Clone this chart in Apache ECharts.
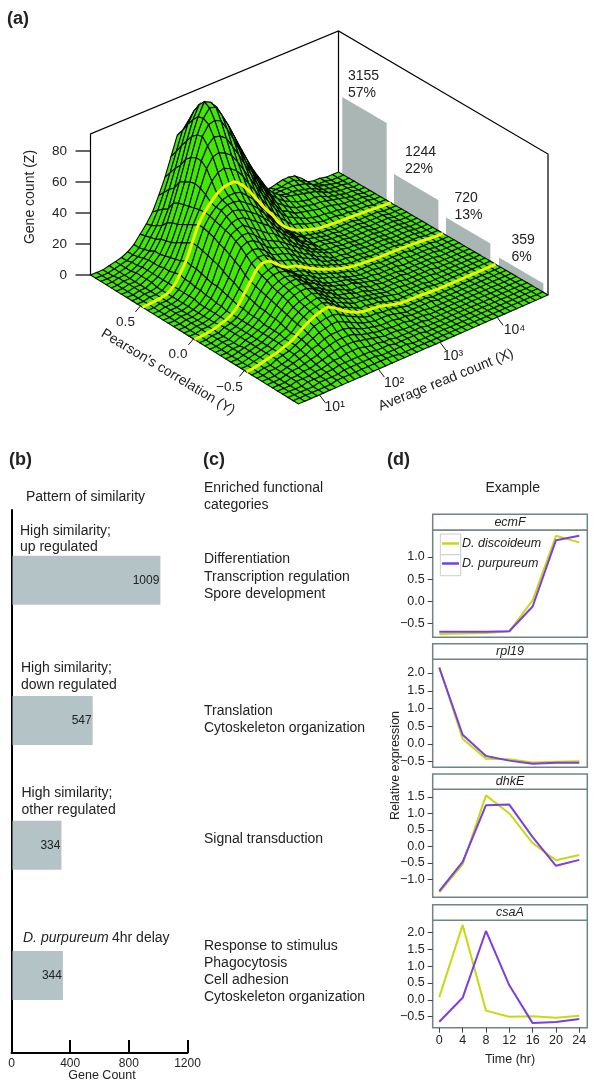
<!DOCTYPE html>
<html><head><meta charset="utf-8">
<style>html,body{margin:0;padding:0;background:#fff}#c{width:600px;height:1090px}</style>
<script src="https://cdn.jsdelivr.net/npm/echarts@6/dist/echarts.min.js"></script>
</head><body><div id="c"></div>
<script>
// ---------- data ----------
const surfaceZ = [
[0,0,0,1,2,3,5,8,13,18,24,33,43,55,67,68,62,50,36,26,18,13,10,8,7,6,6,6,7,8,9,10,10,9,6,2,1,1,0,0,0],
[0,0,0,1,2,3,5,8,14,19,27,37,48,60,72,77,73,62,49,39,30,24,20,16,13,11,9,8,8,9,9,10,10,8,6,2,1,1,0,0,0],
[0,0,0,1,2,4,6,9,15,21,30,41,53,66,78,85,84,74,62,52,42,35,29,24,20,16,13,11,10,10,10,10,9,8,6,3,2,1,0,0,0],
[0,0,1,1,2,4,7,10,16,23,32,44,57,71,83,91,90,81,71,62,52,44,37,30,25,20,16,13,11,10,10,9,8,7,5,3,2,1,1,0,0],
[0,0,1,1,3,5,8,12,18,27,38,50,63,76,87,95,93,88,80,72,63,54,45,37,30,23,18,15,12,11,10,9,8,7,5,3,2,1,1,0,0],
[0,0,1,1,3,5,8,12,19,29,40,52,66,79,88,93,92,85,77,68,58,50,41,33,26,20,16,13,11,9,8,7,7,6,4,3,2,1,1,0,0],
[0,0,1,1,3,5,8,13,20,30,41,54,68,80,86,87,85,78,70,61,52,44,36,29,23,17,14,11,9,8,7,6,6,5,4,3,2,1,1,0,0],
[0,0,1,1,3,5,9,14,22,32,42,55,68,76,80,79,76,69,62,54,46,38,31,25,19,14,12,9,8,7,6,5,5,4,3,2,2,1,1,0,0],
[0,0,1,1,2,5,9,15,24,34,43,54,65,71,72,70,67,61,54,47,40,33,27,21,16,12,10,8,6,5,4,4,3,3,2,2,1,1,1,0,0],
[0,0,1,1,2,5,10,16,26,36,44,52,59,63,64,62,59,54,47,41,34,28,22,17,13,9,8,6,5,4,3,3,3,2,2,1,1,1,0,0,0],
[0,0.2,0.6,1.1,2,5,11,18,28,38,44.5,49,53,55.3,56,55.6,52,47,41,35,29,24,17.5,13,10,7.5,6,4.6,3.4,2.9,2.5,2.2,2,1.8,1.6,1.4,1.1,0.8,0.5,0.2,0],
[0,0,1,1,2,5,10,17,28,38,44,48,51,52,52,51,47,43,37,32,26,22,16,12,9,6,5,4,3,3,2,2,2,2,1,1,1,1,0,0,0],
[0,0,1,1,2,5,10,17,27,37,43,48,50,50,49,46,43,39,34,29,24,20,15,11,9,6,5,4,3,3,2,2,2,2,1,1,1,1,0,0,0],
[0,0,1,1,2,5,9,16,26,36,42,46,48,47,45,42,39,35,31,26,22,18,14,10,8,5,5,4,3,3,2,2,2,2,1,1,1,1,0,0,0],
[0,0,1,1,2,5,9,15,25,34,41,44,45,44,41,38,35,32,28,24,20,17,13,10,8,5,5,4,3,3,2,2,2,2,1,1,1,1,0,0,0],
[0,0,1,1,2,4,8,14,24,33,40,42,43,40,37,34,31,29,25,22,18,15,12,9,7,5,4,4,3,3,2,2,2,2,1,1,1,1,0,0,0],
[0,0,1,1,2,4,8,14,22,31,38,40,40,37,33,30,28,26,23,20,17,14,11,9,7,5,4,4,3,3,2,2,2,2,1,1,1,1,0,0,0],
[0,0,1,1,2,4,7,13,20,29,36,38,37,34,30,27,26,24,21,18,15,13,10,8,6,4,4,3,3,3,2,2,2,2,1,1,1,1,0,0,0],
[0,0,1,1,2,4,7,12,19,27,33,35,34,31,27,25,24,22,19,16,14,12,9,7,6,4,4,3,3,2,2,2,2,2,1,1,1,1,0,0,0],
[0,0,1,1,2,4,6,11,17,24,30,32,32,29,25,23,22,20,17,14,12,10,8,7,5,4,3,3,3,2,2,2,2,2,1,1,1,1,0,0,0],
[0,0.2,0.6,1.4,2.6,3.8,6,10,16,22,28,30.5,30,27,23.5,21,20,18,15.5,13.3,11.2,9.5,7.8,6.3,5,4,3.4,3,2.7,2.5,2.3,2.2,2.1,2,1.8,1.5,1.2,0.9,0.5,0.2,0],
[0,0,1,1,3,4,6,10,15,21,26,28,29,26,23,20,19,17,14,12,10,9,7,6,5,3,3,3,3,2,2,2,2,2,1,1,1,1,0,0,0],
[0,0,1,1,3,4,6,9,14,20,25,27,27,26,23,20,18,16,13,11,10,8,7,5,4,3,3,3,2,2,2,2,2,1,1,1,1,0,0,0,0],
[0,0,1,1,3,4,6,9,13,19,23,25,26,25,23,20,17,15,12,10,9,8,7,5,4,3,3,2,2,2,2,1,1,1,1,1,1,0,0,0,0],
[0,0,1,1,3,4,6,9,13,18,22,24,25,25,22,19,17,14,12,10,9,7,7,5,4,3,2,2,2,2,1,1,1,1,1,1,0,0,0,0,0],
[0,0,1,1,3,4,6,8,12,17,21,23,24,24,22,18,16,13,11,10,8,6,6,5,3,3,2,2,2,2,1,1,1,1,1,0,0,0,0,0,0],
[0,0,1,2,3,4,6,8,12,16,20,22,23,23,21,18,15,13,10,9,8,6,6,4,3,2,2,2,2,1,1,1,1,1,0,0,0,0,0,0,0],
[0,0,1,2,3,4,6,8,11,15,18,20,21,22,20,17,14,12,10,8,7,6,5,4,3,2,2,2,1,1,1,1,1,0,0,0,0,0,0,0,0],
[0,0,1,2,3,4,6,8,10,14,17,19,20,21,19,16,13,11,9,7,7,6,5,4,3,2,1,1,1,1,1,0,0,0,0,0,0,0,0,0,0],
[0,0,1,2,3,4,6,7,9,13,16,18,19,20,18,15,12,10,8,6,6,5,5,3,2,1,1,1,1,1,1,0,0,0,0,0,0,0,0,0,0],
[0,0.3,1,2,3,4,5.5,7,9.5,12.5,15,17,18.2,19,17,14,11.3,9,7.2,6.2,5.8,5.3,4.6,3.2,2,1.3,1.1,1,0.8,0.5,0.3,0.1,0,0,0,0,0,0,0,0,0],
[0,0,1,1,3,4,5,7,9,11,14,15,16,16,15,12,10,8,6,5,5,4,4,3,2,1,1,1,1,0,0,0,0,0,0,0,0,0,0,0,0],
[0,0,1,1,2,3,5,6,8,10,12,13,14,14,12,10,8,6,5,4,4,4,3,2,1,1,1,1,1,0,0,0,0,0,0,0,0,0,0,0,0],
[0,0,0,1,2,3,4,5,7,8,10,11,11,11,10,8,6,5,4,3,3,3,2,2,1,1,1,0,0,0,0,0,0,0,0,0,0,0,0,0,0],
[0,0,0,1,2,2,3,4,5,7,8,9,9,9,8,6,5,4,3,3,2,2,2,1,1,1,0,0,0,0,0,0,0,0,0,0,0,0,0,0,0],
[0,0,0,1,1,2,2,3,4,5,6,7,7,7,6,5,4,3,2,2,2,1,1,1,1,0,0,0,0,0,0,0,0,0,0,0,0,0,0,0,0],
[0,0,0,1,1,1,2,2,3,4,4,5,5,5,4,3,3,2,2,1,1,1,1,1,0,0,0,0,0,0,0,0,0,0,0,0,0,0,0,0,0],
[0,0,0,0,1,1,1,2,2,3,3,3,3,3,3,2,2,2,1,1,1,1,1,0,0,0,0,0,0,0,0,0,0,0,0,0,0,0,0,0,0],
[0,0,0,0,0,1,1,1,1,2,2,2,2,2,2,1,1,1,1,1,0,0,0,0,0,0,0,0,0,0,0,0,0,0,0,0,0,0,0,0,0],
[0,0,0,0,0,0,0,1,1,1,1,1,1,1,1,1,1,0,0,0,0,0,0,0,0,0,0,0,0,0,0,0,0,0,0,0,0,0,0,0,0],
[0,0,0,0,0,0,0,0,0,0,0,0,0,0,0,0,0,0,0,0,0,0,0,0,0,0,0,0,0,0,0,0,0,0,0,0,0,0,0,0,0]
];
const yellowRows = [10,20,30];
const wallCounts = [3155,1244,720,359];
const wallPercents = ['57%','22%','13%','6%'];
const zTicks = [0,20,40,60,80];
const yTickLabels = ['0.5','0.0','\u22120.5'];
const xTickLabels = ['10\u00B9','10\u00B2','10\u00B3','10\u2074'];

const barCounts = [1009,547,334,344];
const times = [0,4,8,12,16,20,24];
const genes = ['ecmF','rpl19','dhkE','csaA'];
const discoideum = [
 [-0.74,-0.73,-0.72,-0.68,0.02,1.48,1.33],
 [2.17,0.15,-0.42,-0.43,-0.52,-0.5,-0.49],
 [-1.4,-0.55,1.55,1.0,0.1,-0.42,-0.26],
 [0.08,2.22,-0.32,-0.5,-0.49,-0.53,-0.47]
];
const purpureum = [
 [-0.69,-0.69,-0.69,-0.68,-0.12,1.38,1.48],
 [2.15,0.26,-0.34,-0.47,-0.56,-0.53,-0.53],
 [-1.36,-0.47,1.25,1.27,0.28,-0.59,-0.41],
 [-0.65,0.06,2.04,0.43,-0.69,-0.66,-0.57]
];
const panelTicks = [
 [-0.5,0,0.5,1],
 [-0.5,0,0.5,1,1.5,2],
 [-1,-0.5,0,0.5,1,1.5],
 [-0.5,0,0.5,1,1.5,2]
];

// ---------- layout / projection ----------
const A=[90.5,275], F=[298.5,404], R=[548,295], B=[338.5,172];
const Z_PX=1.55, WALL_PX=0.0245, WALL_H=141;
function floor(s,t){
  const xa=A[0]+(B[0]-A[0])*s, ya=A[1]+(B[1]-A[1])*s;
  const xb=F[0]+(R[0]-F[0])*s, yb=F[1]+(R[1]-F[1])*s;
  return [xa+(xb-xa)*t, ya+(yb-ya)*t];
}
function proj(s,t,z){const p=floor(s,t);return [p[0],p[1]-z*Z_PX];}
const N=40;
const cells=[];
for(let i=0;i<N;i++)for(let j=N-1;j>=0;j--){
  cells.push([i,j,surfaceZ[i][j],surfaceZ[i][j+1],surfaceZ[i+1][j+1],surfaceZ[i+1][j]]);
}
const wallSlots=[0.018,0.265,0.513,0.766], wallW=0.212;
const TEXT='#222', FF='"Liberation Sans",Arial,sans-serif';
function T(text,x,y,o){o=o||{};return {type:'text',x:x,y:y,rotation:o.rot||0,z:50,
  style:{text:text,fill:o.fill||TEXT,font:(o.italic?'italic ':'')+(o.bold?'bold ':'')+(o.size||14)+'px '+FF,
  align:o.align||'left',verticalAlign:'middle'}};}
const FR='#6f8484';

const grids=[{left:0,top:0,width:600,height:1090}];
const xAxes=[{gridIndex:0,type:'value',min:0,max:600,show:false}];
const yAxes=[{gridIndex:0,type:'value',min:0,max:1090,inverse:true,show:false}];
const series=[];

// walls + wall bars
series.push({type:'custom',coordinateSystem:'cartesian2d',xAxisIndex:0,yAxisIndex:0,silent:true,clip:false,
  data:wallCounts.map((c,i)=>[i,c]),progressive:0,animation:false,
  renderItem:(p,api)=>{
    const k=api.value(0),c=api.value(1),t0=wallSlots[k],t1=t0+wallW;
    const a=floor(1,t0),b=floor(1,t1),h=c*WALL_PX;
    const pts=[[a[0],a[1]],[a[0],a[1]-h],[b[0],b[1]-h],[b[0],b[1]]].map(q=>api.coord(q));
    return {type:'polygon',shape:{points:pts},style:{fill:'#a9b6b4'}};
  }});
series.push({type:'custom',coordinateSystem:'cartesian2d',xAxisIndex:0,yAxisIndex:0,silent:true,clip:false,
  data:[[0]],progressive:0,animation:false,
  renderItem:(p,api)=>{
    const top=q=>[q[0],q[1]-WALL_H];
    const pts=[A,top(A),top(B),top(R),R].map(q=>api.coord(q));
    return {type:'group',children:[
      {type:'polyline',shape:{points:pts},style:{fill:null,stroke:'#000',lineWidth:1.2}},
      {type:'line',shape:{x1:B[0],y1:B[1],x2:B[0],y2:B[1]-WALL_H},style:{stroke:'#000',lineWidth:1.2}}
    ]};
  }});
// surface
series.push({type:'custom',coordinateSystem:'cartesian2d',xAxisIndex:0,yAxisIndex:0,silent:true,clip:false,
  data:cells,progressive:0,animation:false,
  renderItem:(p,api)=>{
    const i=api.value(0),j=api.value(1);
    const q=[proj(j/N,i/N,api.value(2)),proj((j+1)/N,i/N,api.value(3)),
             proj((j+1)/N,(i+1)/N,api.value(4)),proj(j/N,(i+1)/N,api.value(5))].map(v=>api.coord(v));
    return {type:'polygon',shape:{points:q},style:{fill:'#3fea00',stroke:'#050505',lineWidth:1.1}};
  }});
// yellow lines
series.push({type:'custom',coordinateSystem:'cartesian2d',xAxisIndex:0,yAxisIndex:0,silent:true,clip:false,
  data:yellowRows.map(r=>[r]),progressive:0,animation:false,
  renderItem:(p,api)=>{
    const r=api.value(0);
    const pts=surfaceZ[r].map((z,j)=>api.coord(proj(j/N,r/N,z)));
    return {type:'polyline',shape:{points:pts,smooth:0.35},style:{fill:null,stroke:'#f4ee10',lineWidth:3}};
  }});

// panel (b) bars
const barTops=[555.7,696,820.7,951], BAR_H=49;
barCounts.forEach((v,k)=>{
  const g=grids.length;
  grids.push({left:12.5,width:175,top:barTops[k],height:BAR_H});
  xAxes.push({gridIndex:g,type:'value',min:0,max:1194,show:false});
  yAxes.push({gridIndex:g,type:'category',data:['b'+k],show:false});
  series.push({type:'bar',xAxisIndex:g,yAxisIndex:g,data:[v],barWidth:'100%',animation:false,silent:true,
    itemStyle:{color:'#b3c3c6'},
    label:{show:true,position:'insideRight',distance:1,color:'#222',fontSize:12,fontFamily:FF}});
});
// panel (b) axis frame
{
  const g=grids.length;
  grids.push({left:11.5,width:176,top:510,height:543});
  xAxes.push({gridIndex:g,type:'value',min:0,max:1200,interval:400,
    axisLine:{show:true,lineStyle:{color:'#000',width:2}},
    axisTick:{show:true,inside:true,length:13,lineStyle:{color:'#000',width:2}},
    axisLabel:{color:'#222',fontSize:12,fontFamily:FF,margin:5,showMinLabel:true,showMaxLabel:true,hideOverlap:false,formatter:v=>String(v)},
    splitLine:{show:false}});
  yAxes.push({gridIndex:g,type:'value',min:0,max:1,
    axisLine:{show:true,onZero:false,lineStyle:{color:'#000',width:2}},axisTick:{show:false},axisLabel:{show:false},splitLine:{show:false}});
  series.push({type:'line',xAxisIndex:g,yAxisIndex:g,data:[],silent:true});
}
// panel (d) lines
const plotTop=[530,659.3,789.3,920.3], plotBottom=[637.3,767.3,897.3,1027.7];
const yRange=[[-0.817,1.61],[-0.658,2.387],[-1.547,1.734],[-0.826,2.356]];
const stripTop=[514.3,643.7,774,904.7];
const fmt=v=>(v<0?'\u2212':'')+Math.abs(v).toFixed(1);
genes.forEach((name,k)=>{
  const g=grids.length;
  grids.push({left:432.7,right:12.7,top:plotTop[k],height:plotBottom[k]-plotTop[k],show:true,borderColor:FR,borderWidth:1.5,backgroundColor:'transparent'});
  const last=k===3;
  xAxes.push({gridIndex:g,type:'value',min:-1.13,max:25.37,
    axisLine:{show:false,onZero:false},splitLine:{show:false},
    axisTick:{show:last,length:5,customValues:times,lineStyle:{color:'#444',width:1}},
    axisLabel:{show:last,color:'#222',fontSize:12.5,fontFamily:FF,margin:6,customValues:times}});
  yAxes.push({gridIndex:g,type:'value',min:yRange[k][0],max:yRange[k][1],
    axisLine:{show:false,onZero:false},splitLine:{show:false},
    axisTick:{show:true,length:5,customValues:panelTicks[k],lineStyle:{color:'#444',width:1}},
    axisLabel:{show:true,color:'#222',fontSize:12.5,fontFamily:FF,margin:8,customValues:panelTicks[k],formatter:fmt}});
  const mk=(n,c,d)=>({type:'line',name:n,xAxisIndex:g,yAxisIndex:g,data:times.map((t,i)=>[t,d[i]]),
    showSymbol:false,symbol:'none',lineStyle:{color:c,width:2},itemStyle:{color:c},animation:false,silent:true,clip:true});
  series.push(mk('D. discoideum','#c6da12',discoideum[k]));
  series.push(mk('D. purpureum','#7a3ee2',purpureum[k]));
});

// ---------- text and decoration ----------
const gfx=[];
gfx.push(T('(a)',7,19,{bold:true,size:18}));
gfx.push(T('(b)',9,460,{bold:true,size:18}));
gfx.push(T('(c)',203,460,{bold:true,size:18}));
gfx.push(T('(d)',387,460,{bold:true,size:18}));
// panel a texts
gfx.push(T('Gene count (Z)',30,197,{rot:Math.PI/2,align:'center',size:14}));
gfx.push(T("Pearson's correlation (Y)",168,372,{rot:-31*Math.PI/180,align:'center',size:14}));
gfx.push(T('Average read count (X)',446,380,{rot:22*Math.PI/180,align:'center',size:14}));
zTicks.forEach(z=>{
  const y=A[1]-z*Z_PX;
  gfx.push({type:'line',shape:{x1:A[0]-15,y1:y,x2:A[0],y2:y},style:{stroke:'#000',lineWidth:1.2},z:50});
  gfx.push(T(String(z),67,y,{align:'right',size:13.5}));
});
[0.24,0.495,0.74].forEach((t,i)=>{
  const p=floor(0,t);
  gfx.push({type:'line',shape:{x1:p[0],y1:p[1],x2:p[0]-5,y2:p[1]+6},style:{stroke:'#111',lineWidth:1},z:50});
  gfx.push(T(yTickLabels[i],[125.5,178,229.5][i],[322,354,387][i],{align:'center',size:13.5}));
});
[0.084,0.32,0.567,0.796].forEach((s,i)=>{
  const p=floor(s,1);
  gfx.push({type:'line',shape:{x1:p[0],y1:p[1],x2:p[0]+6,y2:p[1]+8},style:{stroke:'#111',lineWidth:1},z:50});
  gfx.push(T(xTickLabels[i],[334.7,394,453,514.5][i],[407,383,356,330][i],{align:'center',size:14}));
});
const wallLab=[[348,76,93],[405,152.3,169],[454.5,197.7,215],[511.5,240,257]];
wallCounts.forEach((c,i)=>{
  gfx.push(T(String(c),wallLab[i][0],wallLab[i][1]));
  gfx.push(T(wallPercents[i],wallLab[i][0],wallLab[i][2]));
});
// panel b texts
gfx.push(T('Pattern of similarity',26,496.7));
[['High similarity;',20,530.7],['up regulated',20,547],['High similarity;',21,668],['down regulated',21,685],
 ['High similarity;',21.5,793],['other regulated',21.5,810],['4hr delay',112,938]].forEach(a=>gfx.push(T(a[0],a[1],a[2])));
gfx.push(T('D. purpureum',23,938,{italic:true}));
gfx.push(T('Gene Count',102,1076,{align:'center',size:12.5}));
// panel c texts
[['Enriched functional',488],['categories',505],['Differentiation',559],['Transcription regulation',576.7],['Spore development',594],
 ['Translation',710.7],['Cytoskeleton organization',728],['Signal transduction',839],
 ['Response to stimulus',945.7],['Phagocytosis',962.7],['Cell adhesion',980],['Cytoskeleton organization',996.7]
].forEach(a=>gfx.push(T(a[0],204,a[1])));
// panel d decoration
gfx.push(T('Example',512.7,488,{align:'center'}));
gfx.push(T('Relative expression',396,765.5,{rot:Math.PI/2,align:'center',size:12.5}));
gfx.push(T('Time (hr)',510,1060,{align:'center',size:12.5}));
genes.forEach((name,k)=>{
  gfx.push({type:'rect',shape:{x:432.7,y:stripTop[k],width:154.6,height:plotTop[k]-stripTop[k]},style:{fill:'#fff',stroke:FR,lineWidth:1.5},z:40});
  gfx.push(T(name,510,(stripTop[k]+plotTop[k])/2,{italic:true,align:'center',size:12.5}));
});
gfx.push({type:'rect',shape:{x:440.3,y:534,width:20.4,height:20.7},style:{fill:'#fff',stroke:'#c5d0d0',lineWidth:1},z:2});
gfx.push({type:'rect',shape:{x:440.3,y:554.7,width:20.4,height:21},style:{fill:'#fff',stroke:'#c5d0d0',lineWidth:1},z:2});

const chart=echarts.init(document.getElementById('c'),null,{renderer:'canvas',width:600,height:1090});
chart.setOption({
  animation:false,backgroundColor:'#fff',
  grid:grids,xAxis:xAxes,yAxis:yAxes,series:series,
  legend:{show:true,orient:'vertical',left:442,top:537,itemWidth:17,itemHeight:2.5,itemGap:7,icon:'rect',z:30,
    padding:0,data:['D. discoideum','D. purpureum'],selectedMode:false,
    textStyle:{fontStyle:'italic',fontSize:12.5,color:'#222',fontFamily:FF,padding:[0,0,0,-2]}},
  tooltip:{show:false},
  graphic:{elements:gfx}
});
</script></body></html>
